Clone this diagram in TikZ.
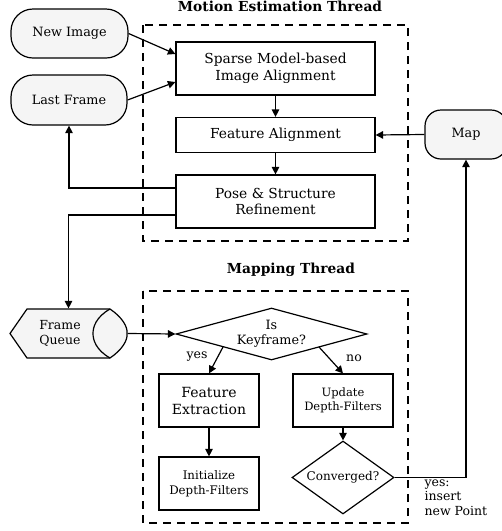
\documentclass[tikz,border=0pt]{standalone}
\usepackage{fontspec}
\setmainfont{DejaVu Serif}
\usetikzlibrary{arrows.meta,shapes.geometric,calc}
\begin{document}
\begin{tikzpicture}[x=1pt,y=-1pt,
  line width=1.2pt,
  >={Triangle[length=7.5pt,width=7.5pt]},
  proc/.style={draw,fill=white,inner sep=0pt,align=center,font=\fontsize{13.8}{16.5}\selectfont},
  term/.style={draw,fill=black!4,inner sep=0pt,align=center,rounded corners=22pt,font=\fontsize{12.8}{15}\selectfont},
  dec/.style={draw,fill=white,diamond,inner sep=0pt,align=center,font=\fontsize{12.8}{15}\selectfont},
  thread/.style={draw,dashed,dash pattern=on 8pt off 6pt},
  ttl/.style={font=\bfseries\fontsize{13.8}{16}\selectfont},
  lbl/.style={font=\fontsize{12.5}{14.5}\selectfont}]
\useasboundingbox (0,0) rectangle (502,531);

% thread boxes
\draw[thread] (143,25) rectangle (408,241);
\draw[thread] (143,291) rectangle (408,523);
\node[ttl,anchor=north,inner sep=0pt] (t1) at (280,0.5) {Motion Estimation Thread};
\node[ttl] (t2) at (291,270) {Mapping Thread};

% motion estimation
\node[term,minimum width=117pt,minimum height=49pt] (newimg) at (69.5,33.5) {New Image};
\node[term,minimum width=116pt,minimum height=50pt] (last) at (69,100) {Last Frame};
\node[proc,minimum width=199pt,minimum height=53pt] (sparse) at (275.5,68.5) {Sparse Model-based\\Image Alignment};
\node[proc,minimum width=199pt,minimum height=35pt] (feat) at (275.5,135) {Feature Alignment};
\node[proc,minimum width=199pt,minimum height=53pt] (pose) at (275.5,201.5) {Pose \& Structure\\Refinement};
\node[draw,fill=black!4,rounded corners=16pt,inner sep=0pt,minimum width=82pt,minimum height=49pt,font=\fontsize{12.8}{15}\selectfont] (map) at (466,134.5) {Map};

\draw[->] (newimg.east) -- (sparse.west |- 0,54);
\draw[->] (last.east) -- (sparse.west |- 0,82);
\draw[->] (sparse) -- (feat);
\draw[->] (feat) -- (pose);
\draw[->] (map.west) -- (feat.east);
\draw[->] (pose.west |- 0,188) -| (last.south);

% frame queue
\node[inner sep=0pt,minimum width=117pt,minimum height=49pt] (fq) at (68.5,333.5) {};
\draw[fill=black!4] (27,309) -- (10,333.5) -- (27,358) -- (110,358)
  .. controls (122,350) and (128,340) .. (127,333.5)
  .. controls (128,327) and (122,317) .. (110,309) -- cycle;
\draw (110,309) .. controls (96,317) and (93,327) .. (93,333.5)
  .. controls (93,340) and (96,350) .. (110,358);
\node[align=center,font=\fontsize{12.5}{15.5}\selectfont] (fqt) at (60,333.5) {Frame\\Queue};
\draw[->] (pose.west |- 0,215) -| (fq.north);

% mapping
\node[dec,minimum width=191pt,minimum height=52pt,aspect=3.6] (key) at (271.5,334) {Is\\Keyframe?};
\node[proc,minimum width=100pt,minimum height=53pt,font=\fontsize{14}{17}\selectfont] (fext) at (209,400.5) {Feature\\Extraction};
\node[proc,minimum width=100pt,minimum height=53pt,font=\fontsize{11.5}{14}\selectfont] (upd) at (343,400.5) {Update\\Depth-Filters};
\node[proc,minimum width=100pt,minimum height=53pt,font=\fontsize{11.8}{14.5}\selectfont] (init) at (209,483.5) {Initialize\\Depth-Filters};
\node[dec,minimum width=102pt,minimum height=73pt,aspect=1.4,font=\fontsize{12}{14}\selectfont] (conv) at (343,477.5) {Converged?};

\draw[->] (fq.east) -- (key.west);
\draw[->] (223,347) -- (fext.north);
\draw[->] (319,347) -- (upd.north);
\draw[->] (fext) -- (init);
\draw[->] (upd) -- (conv);
\draw[->] (conv.east) -| (map.south);

\node[lbl] (yes) at (197,357) {yes};
\node[lbl] (no) at (354,358) {no};
\node[lbl,align=left,anchor=north west,inner sep=0pt] (ins) at (424,479) {yes:\\insert\\new Point};
\end{tikzpicture}
\end{document}
